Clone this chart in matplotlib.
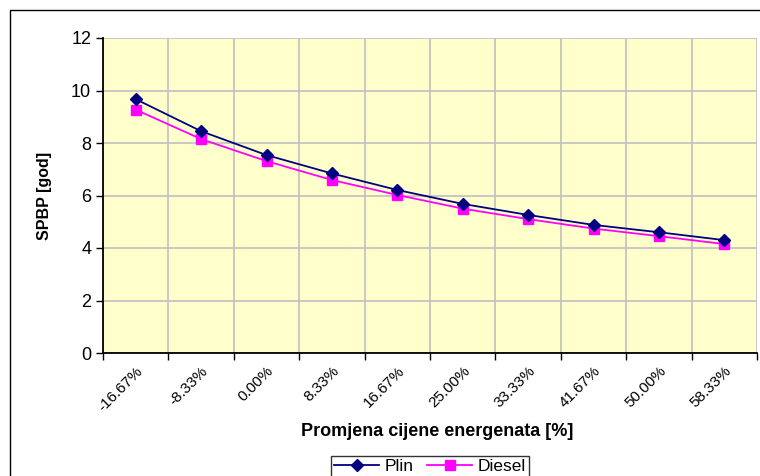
import matplotlib
matplotlib.use("Agg")
from matplotlib import pyplot as plt
from matplotlib.patches import Rectangle
import numpy as np

# podaci
kategorije = ['-16.67%', '-8.33%', '0.00%', '8.33%', '16.67%',
              '25.00%', '33.33%', '41.67%', '50.00%', '58.33%']
plin = [9.67, 8.45, 7.54, 6.84, 6.21, 5.68, 5.26, 4.88, 4.60, 4.30]
diesel = [9.27, 8.15, 7.31, 6.59, 6.02, 5.50, 5.10, 4.74, 4.45, 4.15]

plt.rcParams['font.family'] = ['Liberation Sans', 'DejaVu Sans']

fig = plt.figure(figsize=(7.6, 4.76), dpi=100)
fig.patch.set_facecolor('white')

# okvir oko cijelog grafikona
fig.patches.append(Rectangle((10 / 760, -0.1), 1.0, 1 - 10 / 476 + 0.1,
                             transform=fig.transFigure, fill=False,
                             edgecolor='black', linewidth=1.0))

ax = fig.add_axes([103 / 760, 1 - 353 / 476, (757 - 103) / 760, (353 - 38) / 476])
ax.set_facecolor('#FFFFCC')

x = np.arange(len(kategorije))
ax.plot(x, plin, color='#000080', marker='D', markersize=6, linewidth=1.3,
        label='Plin', zorder=4)
ax.plot(x, diesel, color='#FF00FF', marker='s', markersize=6.5, linewidth=1.3,
        label='Diesel', zorder=3)

ax.set_xlim(-0.5, len(kategorije) - 0.5)
ax.set_ylim(0, 12)
ax.set_yticks(np.arange(0, 13, 2))

# granice kategorija kao glavni tickovi, nazivi na sredini
ax.set_xticks(np.arange(-0.5, len(kategorije), 1.0))
ax.set_xticklabels([])
ax.set_xticks(x, minor=True)
ax.set_xticklabels(kategorije, minor=True, rotation=45, ha='right',
                   rotation_mode='anchor', fontsize=11)
ax.tick_params(axis='x', which='minor', length=0, pad=8)
ax.tick_params(axis='x', which='major', length=5, direction='out', width=1)
ax.tick_params(axis='y', length=5, direction='out', labelsize=13, width=1)

ax.grid(True, which='major', color='#C0C0C0', linewidth=1.2)
ax.set_axisbelow(True)
for s in ['top', 'right']:
    ax.spines[s].set_visible(False)
ax.spines['left'].set_linewidth(1.3)
ax.spines['bottom'].set_linewidth(1.3)

ax.set_ylabel('SPBP [god]', fontsize=11.5, fontweight='bold', labelpad=14)
fig.text(437 / 760, 1 - 432 / 476, 'Promjena cijene energenata [%]',
         ha='center', va='center', fontsize=13, fontweight='bold')

leg = fig.legend(loc='upper center', bbox_to_anchor=(430 / 760, 1 - 447 / 476),
                 ncol=2, fontsize=12.5, frameon=True, fancybox=False,
                 edgecolor='black', borderpad=0.2, handlelength=2.6,
                 columnspacing=0.8, handletextpad=0.3)
leg.get_frame().set_linewidth(1.0)

fig.savefig('out.png', dpi=100)
